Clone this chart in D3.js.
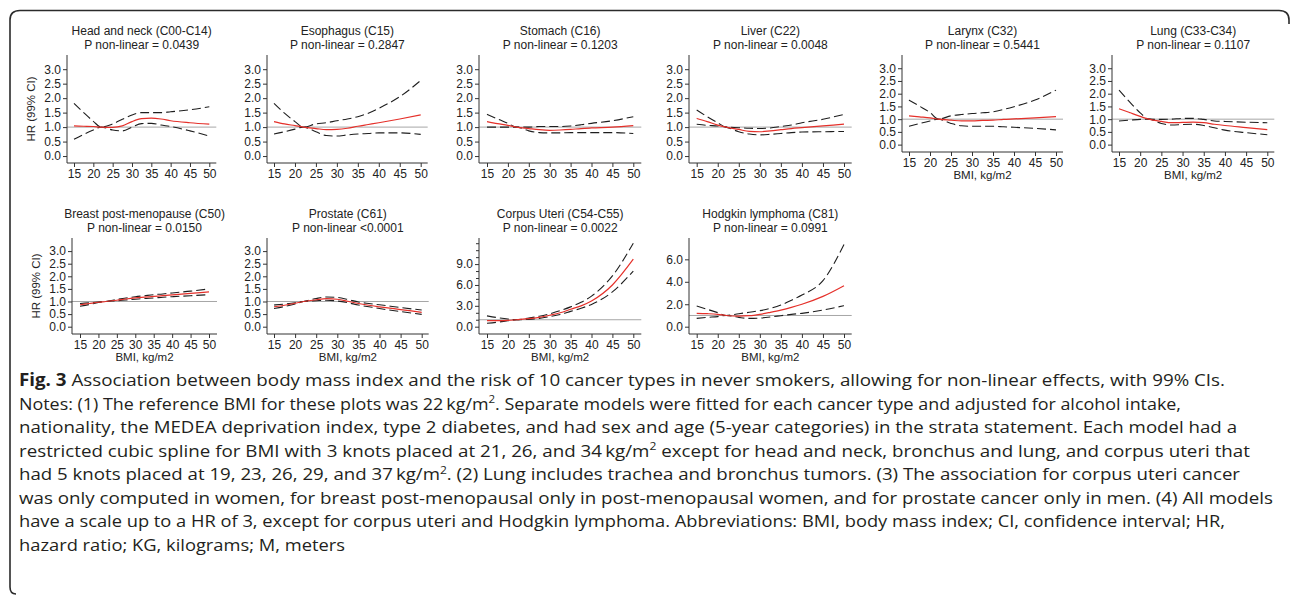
<!DOCTYPE html>
<html>
<head>
<meta charset="utf-8">
<script src="https://cdn.jsdelivr.net/npm/d3@7"></script>
<style>
  html, body { margin: 0; padding: 0; background: #fff; }
  svg { display: block; }
</style>
</head>
<body>
<svg id="chart" width="1290" height="595"></svg>
<script>
// ---------------- DATA ----------------
const bmi = [15, 17.5, 20, 22, 25, 27.5, 30, 32.5, 35, 37.5, 40, 45, 50];

const cancers = [
  "Head and neck (C00-C14)", "Esophagus (C15)", "Stomach (C16)", "Liver (C22)",
  "Larynx (C32)", "Lung (C33-C34)", "Breast post-menopause (C50)", "Prostate (C61)",
  "Corpus Uteri (C54-C55)", "Hodgkin lymphoma (C81)"
];

const pNonLinear = [
  "P non-linear = 0.0439", "P non-linear = 0.2847", "P non-linear = 0.1203", "P non-linear = 0.0048",
  "P non-linear = 0.5441", "P non-linear = 0.1107", "P non-linear = 0.0150", "P non-linear <0.0001",
  "P non-linear = 0.0022", "P non-linear = 0.0991"
];

const hr = [
  [1.04, 1.03, 1.02, 1.00, 0.99, 1.04, 1.19, 1.29, 1.31, 1.28, 1.22, 1.15, 1.10],
  [1.19, 1.11, 1.05, 1.00, 0.95, 0.91, 0.92, 0.96, 1.03, 1.09, 1.15, 1.28, 1.42],
  [1.19, 1.12, 1.06, 1.00, 0.95, 0.91, 0.89, 0.90, 0.92, 0.95, 0.97, 1.00, 1.05],
  [1.30, 1.19, 1.07, 1.00, 0.92, 0.85, 0.84, 0.87, 0.91, 0.95, 0.98, 1.04, 1.10],
  [1.13, 1.09, 1.05, 1.00, 0.96, 0.93, 0.93, 0.95, 0.96, 0.99, 1.01, 1.05, 1.10],
  [1.41, 1.26, 1.11, 1.00, 0.91, 0.86, 0.87, 0.88, 0.86, 0.80, 0.75, 0.67, 0.59],
  [0.87, 0.92, 0.97, 1.00, 1.05, 1.10, 1.14, 1.17, 1.20, 1.23, 1.26, 1.32, 1.38],
  [0.79, 0.85, 0.93, 1.00, 1.07, 1.11, 1.09, 1.01, 0.92, 0.85, 0.79, 0.68, 0.57],
  [0.88, 0.87, 0.90, 1.00, 1.15, 1.35, 1.65, 2.00, 2.50, 3.00, 3.70, 6.00, 9.70],
  [1.19, 1.16, 1.10, 1.00, 0.95, 0.98, 1.10, 1.28, 1.48, 1.72, 2.00, 2.70, 3.65]
];

const upper = [
  [1.82, 1.50, 1.20, 1.00, 1.11, 1.27, 1.42, 1.50, 1.50, 1.50, 1.53, 1.60, 1.70],
  [1.82, 1.48, 1.19, 1.00, 1.11, 1.15, 1.22, 1.28, 1.36, 1.48, 1.65, 2.05, 2.61],
  [1.44, 1.28, 1.13, 1.00, 1.00, 1.02, 1.02, 1.02, 1.04, 1.08, 1.13, 1.22, 1.36],
  [1.59, 1.36, 1.15, 1.00, 0.98, 0.96, 0.95, 0.97, 1.02, 1.07, 1.15, 1.27, 1.44],
  [1.75, 1.51, 1.26, 1.00, 1.13, 1.18, 1.22, 1.25, 1.29, 1.38, 1.49, 1.75, 2.14],
  [2.14, 1.68, 1.25, 1.00, 0.99, 1.00, 1.03, 1.03, 0.99, 0.93, 0.91, 0.88, 0.86],
  [0.92, 0.95, 0.98, 1.00, 1.08, 1.14, 1.19, 1.23, 1.27, 1.30, 1.34, 1.41, 1.50],
  [0.86, 0.90, 0.95, 1.00, 1.12, 1.18, 1.16, 1.08, 0.98, 0.92, 0.87, 0.76, 0.66],
  [1.55, 1.30, 1.10, 1.00, 1.25, 1.50, 1.85, 2.30, 2.85, 3.50, 4.40, 7.30, 12.0],
  [1.84, 1.55, 1.25, 1.00, 1.16, 1.28, 1.43, 1.63, 1.93, 2.35, 2.82, 4.10, 7.33]
];

const lower = [
  [0.58, 0.75, 0.90, 1.00, 0.90, 0.87, 1.00, 1.12, 1.13, 1.07, 1.02, 0.87, 0.69],
  [0.76, 0.84, 0.93, 1.00, 0.84, 0.71, 0.69, 0.73, 0.76, 0.78, 0.80, 0.80, 0.75],
  [1.00, 1.00, 1.00, 1.00, 0.87, 0.81, 0.80, 0.80, 0.81, 0.81, 0.81, 0.81, 0.78],
  [1.10, 1.06, 1.04, 1.00, 0.84, 0.76, 0.73, 0.75, 0.78, 0.81, 0.83, 0.84, 0.85],
  [0.72, 0.83, 0.93, 1.00, 0.83, 0.74, 0.72, 0.72, 0.72, 0.70, 0.68, 0.64, 0.58],
  [0.93, 0.96, 0.99, 1.00, 0.83, 0.77, 0.79, 0.80, 0.75, 0.66, 0.57, 0.47, 0.39],
  [0.81, 0.88, 0.96, 1.00, 1.03, 1.06, 1.09, 1.12, 1.14, 1.17, 1.19, 1.23, 1.27],
  [0.72, 0.80, 0.90, 1.00, 1.03, 1.05, 1.02, 0.95, 0.86, 0.79, 0.72, 0.60, 0.49],
  [0.50, 0.65, 0.85, 1.00, 1.05, 1.20, 1.45, 1.75, 2.20, 2.65, 3.20, 5.00, 8.00],
  [0.74, 0.83, 0.90, 1.00, 0.83, 0.74, 0.77, 0.86, 0.98, 1.10, 1.19, 1.49, 1.87]
];

const xTicks = [15, 20, 25, 30, 35, 40, 45, 50];
const yTicksHR3 = [0, 0.5, 1, 1.5, 2, 2.5, 3];
const yTicksCorpus = [0, 3, 6, 9];
const yTicksCorpusMinor = [1, 2, 4, 5, 7, 8, 10, 11, 12];
const yTicksHodgkin = [0, 2, 4, 6];
const referenceHR = 1;
const yAxisLabel = "HR (99% CI)";
const xAxisLabel = "BMI, kg/m2";

const captionLines = [
  [["b", "Fig. 3"], ["t", " Association between body mass index and the risk of 10 cancer types in never smokers, allowing for non-linear effects, with 99% CIs."]],
  [["t", "Notes: (1) The reference BMI for these plots was 22\u2009kg/m"], ["s", "2"], ["t", ". Separate models were fitted for each cancer type and adjusted for alcohol intake,"]],
  [["t", "nationality, the MEDEA deprivation index, type 2 diabetes, and had sex and age (5-year categories) in the strata statement. Each model had a"]],
  [["t", "restricted cubic spline for BMI with 3 knots placed at 21, 26, and 34\u2009kg/m"], ["s", "2"], ["t", " except for head and neck, bronchus and lung, and corpus uteri that"]],
  [["t", "had 5 knots placed at 19, 23, 26, 29, and 37\u2009kg/m"], ["s", "2"], ["t", ". (2) Lung includes trachea and bronchus tumors. (3) The association for corpus uteri cancer"]],
  [["t", "was only computed in women, for breast post-menopausal only in post-menopausal women, and for prostate cancer only in men. (4) All models"]],
  [["t", "have a scale up to a HR of 3, except for corpus uteri and Hodgkin lymphoma. Abbreviations: BMI, body mass index; CI, confidence interval; HR,"]],
  [["t", "hazard ratio; KG, kilograms; M, meters"]]
];

// ---------------- LAYOUT ----------------
const layout = [
  {ax: 67,   x15: 74,    x50: 209.3, top: 55,  bot: 163, ydom: [-0.24, 3.49], yt: yTicksHR3, ylab: true,  xlab: false},
  {ax: 267,  x15: 274,   x50: 420.7, top: 55,  bot: 163, ydom: [-0.24, 3.49], yt: yTicksHR3, ylab: false, xlab: false},
  {ax: 479,  x15: 487,   x50: 633.3, top: 55,  bot: 163, ydom: [-0.24, 3.49], yt: yTicksHR3, ylab: false, xlab: false},
  {ax: 689,  x15: 696.7, x50: 844,   top: 55,  bot: 163, ydom: [-0.24, 3.49], yt: yTicksHR3, ylab: false, xlab: false},
  {ax: 902,  x15: 909,   x50: 1056,  top: 55,  bot: 152, ydom: [-0.29, 3.52], yt: yTicksHR3, ylab: false, xlab: true},
  {ax: 1112, x15: 1119,  x50: 1267.3,top: 55,  bot: 152, ydom: [-0.29, 3.52], yt: yTicksHR3, ylab: false, xlab: true},
  {ax: 72,   x15: 80,    x50: 209,   top: 238, bot: 334, ydom: [-0.29, 3.52], yt: yTicksHR3, ylab: true,  xlab: true},
  {ax: 267,  x15: 274,   x50: 421.7, top: 238, bot: 334, ydom: [-0.29, 3.52], yt: yTicksHR3, ylab: false, xlab: true},
  {ax: 479,  x15: 487,   x50: 633.3, top: 238, bot: 334, ydom: [-1.05, 12.75], yt: yTicksCorpus, minor: yTicksCorpusMinor, ylab: false, xlab: true},
  {ax: 689,  x15: 696.7, x50: 844,   top: 238, bot: 334, ydom: [-0.65, 7.9], yt: yTicksHodgkin, ylab: false, xlab: true}
];

const svg = d3.select("#chart");
svg.append("rect").attr("width", 1290).attr("height", 595).attr("fill", "#fff");

// frame
svg.append("path")
  .attr("d", "M16,594 Q10,594 10,587 L10,20 Q10,10.5 20,10.5 L1279,10.5 Q1289,10.5 1289,20 L1289,24")
  .attr("fill", "none").attr("stroke", "#2b2b2b").attr("stroke-width", 1.6);

const chartFont = "'Liberation Sans', Arial, Helvetica, sans-serif";
const textCol = "#222";
const axisCol = "#333";

layout.forEach((L, i) => {
  const g = svg.append("g");
  const x = d3.scaleLinear().domain([15, 50]).range([L.x15, L.x50]);
  const xEnd = L.x50 + (L.x15 - L.ax);
  const y = d3.scaleLinear().domain(L.ydom).range([L.bot, L.top]);

  // reference line
  g.append("line").attr("x1", L.ax).attr("x2", xEnd)
    .attr("y1", y(referenceHR)).attr("y2", y(referenceHR))
    .attr("stroke", "#a6a6a6").attr("stroke-width", 1);

  // axes lines
  g.append("line").attr("x1", L.ax).attr("x2", L.ax).attr("y1", L.top).attr("y2", L.bot)
    .attr("stroke", axisCol).attr("stroke-width", 1);
  g.append("line").attr("x1", L.ax).attr("x2", xEnd).attr("y1", L.bot).attr("y2", L.bot)
    .attr("stroke", axisCol).attr("stroke-width", 1);

  // x axis
  const xa = d3.axisBottom(x).tickValues(xTicks).tickSize(4).tickPadding(2).tickFormat(d3.format("d"));
  const gx = g.append("g").attr("transform", `translate(0,${L.bot})`).call(xa);
  gx.select(".domain").remove();
  gx.selectAll("line").attr("stroke", axisCol);
  gx.selectAll("text").attr("font-family", chartFont).attr("font-size", 12).attr("fill", textCol)
    .attr("y", 15).attr("dy", null);

  // y axis
  const ya = d3.axisLeft(y).tickValues(L.yt).tickSize(4).tickPadding(2).tickFormat(d3.format(".1f"));
  const gy = g.append("g").attr("transform", `translate(${L.ax},0)`).call(ya);
  gy.select(".domain").remove();
  gy.selectAll("line").attr("stroke", axisCol);
  gy.selectAll("text").attr("font-family", chartFont).attr("font-size", 12).attr("fill", textCol);

  if (L.minor) {
    const ym = d3.axisLeft(y).tickValues(L.minor).tickSize(3).tickFormat("");
    const gm = g.append("g").attr("transform", `translate(${L.ax},0)`).call(ym);
    gm.select(".domain").remove();
    gm.selectAll("line").attr("stroke", axisCol);
  }

  // titles
  const cx = (L.ax + xEnd) / 2;
  g.append("text").attr("x", cx).attr("y", L.top - 20.5).attr("text-anchor", "middle")
    .attr("font-family", chartFont).attr("font-size", 12).attr("fill", textCol).text(cancers[i]);
  g.append("text").attr("x", cx).attr("y", L.top - 6).attr("text-anchor", "middle")
    .attr("font-family", chartFont).attr("font-size", 12).attr("fill", textCol).text(pNonLinear[i]);

  if (L.xlab) {
    g.append("text").attr("x", cx).attr("y", L.bot + 26.5).attr("text-anchor", "middle")
      .attr("font-family", chartFont).attr("font-size", 11.5).attr("fill", textCol).text(xAxisLabel);
  }
  if (L.ylab) {
    const yc = (L.top + L.bot) / 2;
    g.append("text").attr("transform", `translate(${L.ax - 32},${yc}) rotate(-90)`)
      .attr("text-anchor", "middle").attr("font-family", chartFont).attr("font-size", 11.5)
      .attr("fill", textCol).text(yAxisLabel);
  }

  const line = d3.line().x(d => x(d[0])).y(d => y(d[1])).curve(d3.curveMonotoneX);
  const pts = arr => bmi.map((b, k) => [b, arr[k]]);

  [upper[i], lower[i]].forEach(arr => {
    g.append("path").attr("d", line(pts(arr))).attr("fill", "none")
      .attr("stroke", "#1e1e1e").attr("stroke-width", 1.1).attr("stroke-dasharray", "9,4");
  });
  g.append("path").attr("d", line(pts(hr[i]))).attr("fill", "none")
    .attr("stroke", "#e5302a").attr("stroke-width", 1.2);
});

// caption
const capFont = "'Open Sans', 'Noto Sans', sans-serif";
const lineEnds = [1225, 1181, 1237, 1250, 1240, 1273, 1225, 345];
captionLines.forEach((parts, i) => {
  const t = svg.append("text").attr("x", 19).attr("y", 386 + i * 23.5)
    .attr("font-family", capFont).attr("font-size", 17).attr("fill", "#231f20")
    .attr("textLength", lineEnds[i] - 19).attr("lengthAdjust", "spacingAndGlyphs");
  let raised = false;
  parts.forEach(([kind, str]) => {
    if (kind === "b") {
      t.append("tspan").attr("font-weight", "bold").text(str);
    } else if (kind === "s") {
      t.append("tspan").attr("dy", -6.5).attr("font-size", 11).text(str);
      raised = true;
    } else {
      const sp = t.append("tspan").text(str);
      if (raised) { sp.attr("dy", 6.5); raised = false; }
    }
  });
});
</script>
</body>
</html>
